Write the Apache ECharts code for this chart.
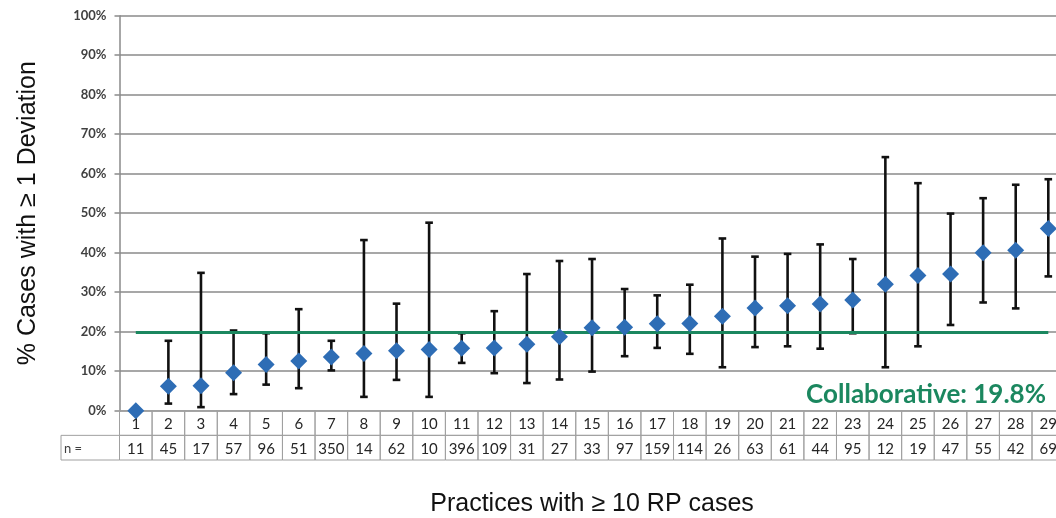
<!DOCTYPE html>
<html>
<head>
<meta charset="utf-8">
<script src="https://cdn.jsdelivr.net/npm/echarts@6/dist/echarts.min.js"></script>
<style>
html,body{margin:0;padding:0;background:#fff;}
#chart{width:1056px;height:518px;}
</style>
</head>
<body>
<div id="chart"></div>
<script>
const categories = ['1','2','3','4','5','6','7','8','9','10','11','12','13','14','15','16','17','18','19','20','21','22','23','24','25','26','27','28','29'];
const nCases = [11,45,17,57,96,51,350,14,62,10,396,109,31,27,33,97,159,114,26,63,61,44,95,12,19,47,55,42,69];
const pctDeviation = [0,6.2,6.3,9.6,11.7,12.6,13.6,14.5,15.2,15.5,15.8,15.9,16.8,18.7,21.0,21.1,22.0,22.1,23.9,26.0,26.6,27.0,28.0,32.0,34.2,34.6,40.0,40.6,46.1];
const ciLower = [null,1.8,0.9,4.2,6.6,5.7,10.2,3.5,7.8,3.5,12.1,9.5,7.0,7.9,9.9,13.8,15.9,14.4,11.0,16.1,16.3,15.7,19.6,11.0,16.3,21.7,27.4,25.9,34.0];
const ciUpper = [null,17.7,34.9,20.3,19.6,25.7,17.7,43.2,27.1,47.6,19.6,25.2,34.6,37.9,38.4,30.8,29.2,31.9,43.6,39.0,39.7,42.1,38.4,64.2,57.6,49.9,53.8,57.2,58.6];
const collaborativeRate = 19.8;
const yMin = 0, yMax = 100, yInterval = 10;
const nRowLabel = 'n =';
const collaborativeLabel = 'Collaborative: 19.8%';
const yTitle = '% Cases with \u2265 1 Deviation';
const xTitle = 'Practices with \u2265 10 RP cases';

const GRID_LEFT = 119.5, GRID_RIGHT = -8.6;
const gray = '#8a8a8a';
const tableStroke = '#a0a0a0';

const errData = [];
categories.forEach((c, i) => {
  if (ciLower[i] != null && ciUpper[i] != null) errData.push([i, ciLower[i], ciUpper[i]]);
});
const tableData = categories.map((c, i) => [i, nCases[i]]);

function renderErr(params, api) {
  const i = api.value(0);
  const lo = api.coord([i, api.value(1)]);
  const hi = api.coord([i, api.value(2)]);
  const cap = 3.8;
  const st = { stroke: '#111', lineWidth: 2.6 };
  return {
    type: 'group',
    children: [
      { type: 'line', shape: { x1: lo[0], y1: lo[1], x2: hi[0], y2: hi[1] }, style: st },
      { type: 'line', shape: { x1: hi[0] - cap, y1: hi[1], x2: hi[0] + cap, y2: hi[1] }, style: st },
      { type: 'line', shape: { x1: lo[0] - cap, y1: lo[1], x2: lo[0] + cap, y2: lo[1] }, style: st }
    ]
  };
}

function renderTable(params, api) {
  const i = api.value(0);
  const top = api.coord([i, 2]);
  const mid = api.coord([i, 1]);
  const bot = api.coord([i, 0]);
  const w = api.size([1, 0])[0];
  const x0 = top[0] - w / 2;
  const rs = { fill: 'none', stroke: tableStroke, lineWidth: 1 };
  const ts = { fill: '#262626', fontFamily: 'Lato', fontSize: 15, align: 'center', verticalAlign: 'middle' };
  const children = [
    { type: 'rect', shape: { x: x0, y: top[1], width: w, height: mid[1] - top[1] }, style: rs },
    { type: 'rect', shape: { x: x0, y: mid[1], width: w, height: bot[1] - mid[1] }, style: rs },
    { type: 'text', x: top[0], y: (top[1] + mid[1]) / 2 + 1, style: Object.assign({ text: categories[i] }, ts) },
    { type: 'text', x: top[0], y: (mid[1] + bot[1]) / 2 + 1, style: Object.assign({ text: String(api.value(1)) }, ts) }
  ];
  if (i === 0) {
    const lw = 58.5;
    children.push({ type: 'rect', shape: { x: x0 - lw, y: mid[1], width: lw, height: bot[1] - mid[1] }, style: rs });
    children.push({ type: 'text', x: x0 - lw + 3, y: (mid[1] + bot[1]) / 2 + 1,
      style: { text: nRowLabel, fill: '#404040', fontFamily: 'Lato', fontSize: 13, align: 'left', verticalAlign: 'middle' } });
  }
  return { type: 'group', children };
}

const chart = echarts.init(document.getElementById('chart'), null, { renderer: 'canvas' });
chart.setOption({
  animation: false,
  backgroundColor: '#fff',
  title: {
    text: collaborativeLabel,
    right: 10, top: 382, padding: 0,
    textStyle: { color: '#1b875f', fontFamily: 'Lato', fontWeight: 'bold', fontSize: 26 }
  },
  grid: [
    { left: GRID_LEFT, right: GRID_RIGHT, top: 15.7, height: 395, outerBoundsMode: 'none', containLabel: false },
    { left: GRID_LEFT, right: GRID_RIGHT, top: 410.7, height: 49.3, outerBoundsMode: 'none', containLabel: false }
  ],
  xAxis: [
    {
      type: 'category', data: categories, gridIndex: 0, boundaryGap: true,
      axisLine: { show: false }, axisTick: { show: false }, axisLabel: { show: false },
      name: xTitle, nameLocation: 'middle', nameGap: 81,
      nameTextStyle: { fontFamily: 'Liberation Sans', fontSize: 25, color: '#111' }
    },
    { type: 'category', data: categories, gridIndex: 1, show: false }
  ],
  yAxis: [
    {
      type: 'value', gridIndex: 0, min: yMin, max: yMax, interval: yInterval,
      axisLine: { show: true, lineStyle: { color: gray, width: 1.5 } },
      axisTick: { show: true, length: 5, lineStyle: { color: gray, width: 1.5 } },
      axisLabel: { formatter: '{value}%', margin: 13, fontFamily: 'Lato', fontWeight: 'bold', fontSize: 13, color: '#404040' },
      splitLine: { show: true, lineStyle: { color: gray, width: 1.5 } },
      name: yTitle, nameLocation: 'middle', nameRotate: 90, nameGap: 79,
      nameTextStyle: { fontFamily: 'Liberation Sans', fontSize: 25, color: '#111' }
    },
    { type: 'value', gridIndex: 1, min: 0, max: 2, show: false }
  ],
  series: [
    {
      type: 'custom', name: 'table', xAxisIndex: 1, yAxisIndex: 1, z: 1,
      renderItem: renderTable, data: tableData, encode: { x: 0, y: 1 }, silent: true
    },
    {
      type: 'custom', name: 'ci', z: 2, renderItem: renderErr, data: errData,
      encode: { x: 0, y: [1, 2] }
    },
    {
      type: 'scatter', name: 'pct', z: 4, data: pctDeviation,
      symbol: 'diamond', symbolSize: 17,
      itemStyle: { color: '#2e6db5', opacity: 1 },
      markLine: {
        z: 3, silent: true, symbol: 'none', label: { show: false },
        lineStyle: { color: '#1b875f', width: 3.2, type: 'solid' },
        data: [[{ coord: [0, collaborativeRate] }, { coord: [categories.length - 1, collaborativeRate] }]]
      }
    }
  ]
});
</script>
</body>
</html>
